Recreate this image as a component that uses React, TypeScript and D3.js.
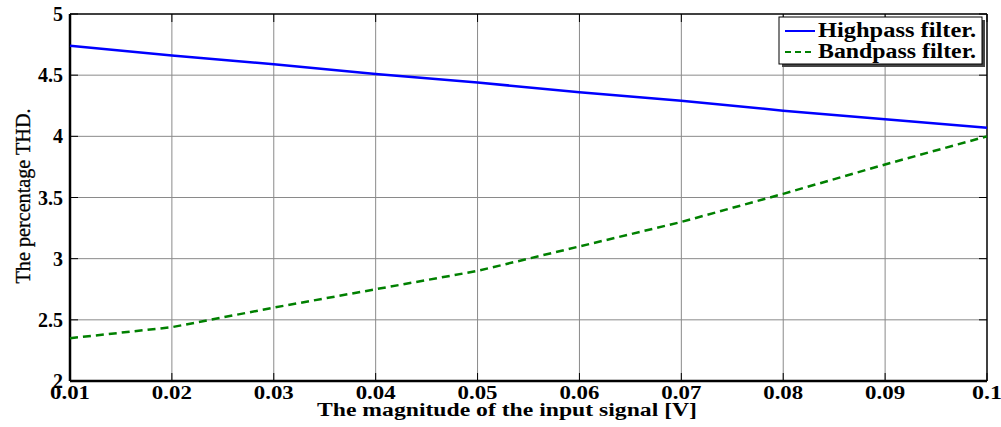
import React, { useEffect, useRef } from "react";
import * as d3 from "d3";

const xValues = [0.01, 0.02, 0.03, 0.04, 0.05, 0.06, 0.07, 0.08, 0.09, 0.1];
const highpass = [4.74, 4.66, 4.59, 4.51, 4.44, 4.36, 4.29, 4.21, 4.14, 4.07];
const bandpass = [2.35, 2.44, 2.6, 2.75, 2.9, 3.1, 3.3, 3.53, 3.77, 4.0];
const xTicks = [0.01, 0.02, 0.03, 0.04, 0.05, 0.06, 0.07, 0.08, 0.09, 0.1];
const xTickLabels = ["0.01", "0.02", "0.03", "0.04", "0.05", "0.06", "0.07", "0.08", "0.09", "0.1"];
const yTicks = [2, 2.5, 3, 3.5, 4, 4.5, 5];
const yTickLabels = ["2", "2.5", "3", "3.5", "4", "4.5", "5"];
const seriesNames = ["Highpass filter.", "Bandpass filter."];

const App = () => {
  const ref = useRef<SVGSVGElement>(null);

  useEffect(() => {
    const width = 1001;
    const height = 427;
    const margin = { top: 14, right: 14, bottom: 46, left: 70 };
    const font = "'Liberation Serif', 'Times New Roman', serif";

    const svg = d3.select(ref.current);
    svg.selectAll("*").remove();

    const x = d3.scaleLinear().domain([0.01, 0.1]).range([margin.left, width - margin.right]);
    const y = d3.scaleLinear().domain([2, 5]).range([height - margin.bottom, margin.top]);
    const [x0, x1] = x.range();
    const [y0, y1] = y.range();

    // grid
    const grid = svg.append("g").attr("stroke", "#8a8a8a").attr("stroke-width", 1);
    grid.selectAll(".gx")
      .data(xTicks.slice(1, -1))
      .enter()
      .append("line")
      .attr("x1", (d) => x(d))
      .attr("x2", (d) => x(d))
      .attr("y1", y1)
      .attr("y2", y0);
    grid.selectAll(".gy")
      .data(yTicks.slice(1, -1))
      .enter()
      .append("line")
      .attr("x1", x0)
      .attr("x2", x1)
      .attr("y1", (d) => y(d))
      .attr("y2", (d) => y(d));

    // ticks (inward)
    const ticks = svg.append("g").attr("stroke", "#000").attr("stroke-width", 1);
    xTicks.forEach((t) => {
      ticks.append("line").attr("x1", x(t)).attr("x2", x(t)).attr("y1", y0).attr("y2", y0 - 8);
      ticks.append("line").attr("x1", x(t)).attr("x2", x(t)).attr("y1", y1).attr("y2", y1 + 8);
    });
    yTicks.forEach((t) => {
      ticks.append("line").attr("x1", x0).attr("x2", x0 + 8).attr("y1", y(t)).attr("y2", y(t));
      ticks.append("line").attr("x1", x1).attr("x2", x1 - 8).attr("y1", y(t)).attr("y2", y(t));
    });

    // frame
    svg.append("line").attr("x1", x0).attr("x2", x1).attr("y1", y1).attr("y2", y1).attr("stroke", "#000").attr("stroke-width", 1.5);
    svg.append("line").attr("x1", x1).attr("x2", x1).attr("y1", y1).attr("y2", y0).attr("stroke", "#000").attr("stroke-width", 1.5);
    svg.append("line").attr("x1", x0).attr("x2", x1).attr("y1", y0).attr("y2", y0).attr("stroke", "#000").attr("stroke-width", 2.5);
    svg.append("line").attr("x1", x0).attr("x2", x0).attr("y1", y1).attr("y2", y0).attr("stroke", "#000").attr("stroke-width", 2.5);

    // tick labels
    svg.append("g")
      .selectAll("text")
      .data(xTicks)
      .enter()
      .append("text")
      .attr("x", (d) => x(d))
      .attr("y", y0 + 18)
      .attr("text-anchor", "middle")
      .attr("font-family", font)
      .attr("font-weight", "bold")
      .attr("font-size", 19)
      .attr("textLength", (d, i) => (xTickLabels[i].length === 4 ? 40 : 30))
      .attr("lengthAdjust", "spacingAndGlyphs")
      .text((d, i) => xTickLabels[i]);
    svg.append("g")
      .selectAll("text")
      .data(yTicks)
      .enter()
      .append("text")
      .attr("x", x0 - 7)
      .attr("y", (d) => y(d) + 7)
      .attr("text-anchor", "end")
      .attr("font-family", font)
      .attr("font-weight", "bold")
      .attr("font-size", 20)
      .text((d, i) => yTickLabels[i]);

    // axis titles
    svg.append("text")
      .attr("x", 507)
      .attr("y", 416)
      .attr("text-anchor", "middle")
      .attr("font-family", font)
      .attr("font-weight", "bold")
      .attr("font-size", 18)
      .attr("textLength", 380)
      .attr("lengthAdjust", "spacingAndGlyphs")
      .text("The magnitude of the input signal [V]");
    svg.append("text")
      .attr("transform", `translate(30,196) rotate(-90)`)
      .attr("text-anchor", "middle")
      .attr("font-family", font)
      .attr("font-size", 21)
      .attr("stroke", "#000")
      .attr("stroke-width", 0.3)
      .attr("textLength", 175)
      .attr("lengthAdjust", "spacingAndGlyphs")
      .text("The percentage THD.");

    // lines
    const line = d3
      .line<number>()
      .x((d, i) => x(xValues[i]))
      .y((d) => y(d));
    svg.append("path")
      .attr("fill", "none")
      .attr("stroke", "#0000ff")
      .attr("stroke-width", 2.5)
      .attr("d", line(highpass));
    svg.append("path")
      .attr("fill", "none")
      .attr("stroke", "#008000")
      .attr("stroke-width", 2.5)
      .attr("stroke-dasharray", "8,5")
      .attr("d", line(bandpass));

    // legend
    const lg = svg.append("g");
    lg.append("rect").attr("x", 782).attr("y", 20).attr("width", 203).attr("height", 47).attr("fill", "#444");
    lg.append("rect").attr("x", 779).attr("y", 17).attr("width", 203).attr("height", 47).attr("fill", "#fff").attr("stroke", "#000").attr("stroke-width", 1);
    const colors = ["#0000ff", "#008000"];
    seriesNames.forEach((name, i) => {
      const ly = 31 + i * 21;
      lg.append("line")
        .attr("x1", 785)
        .attr("x2", 815)
        .attr("y1", ly)
        .attr("y2", ly)
        .attr("stroke", colors[i])
        .attr("stroke-width", 2)
        .attr("stroke-dasharray", i === 1 ? "6,4" : null);
      lg.append("text")
        .attr("x", 818)
        .attr("y", ly + 6)
        .attr("font-family", font)
        .attr("font-weight", "bold")
        .attr("font-size", 20)
        .attr("textLength", 158)
        .attr("lengthAdjust", "spacingAndGlyphs")
        .text(name);
    });
  }, []);

  return <svg ref={ref} width={1001} height={427} style={{ position: "absolute", left: 0, top: 0 }} />;
};

export default App;
